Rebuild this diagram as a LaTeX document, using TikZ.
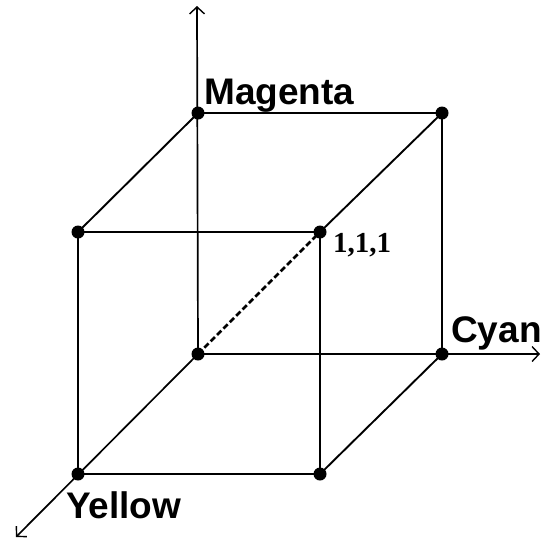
\documentclass[tikz,border=0pt]{standalone}
\usepackage{fontspec}
\setmainfont{Liberation Serif}
\newfontfamily\labfont{Liberation Sans}
\usetikzlibrary{arrows.meta}
\begin{document}
\begin{tikzpicture}[x=1pt,y=-1pt,
  dot/.style={circle,fill=black,inner sep=0pt,minimum size=13pt},
  edge/.style={line width=1.9pt},
  axis/.style={line width=1.7pt,-{Straight Barb[length=7pt,width=15pt,line width=1.4pt]}},
  lab/.style={font=\labfont\bfseries\fontsize{37}{42}\selectfont,inner sep=0pt,anchor=base west},
  num/.style={font=\fontsize{29}{32}\selectfont\bfseries,inner sep=0pt,anchor=base west}]
\useasboundingbox (0,0) rectangle (543,542);
\fill[white] (0,0) rectangle (543,542);
% vertices
\node[dot] (o) at (198,354) {};
\node[dot] (m) at (198,113) {};
\node[dot] (c) at (442,354) {};
\node[dot] (mc) at (442,113) {};
\node[dot] (ym) at (78,232) {};
\node[dot] (w) at (320,232) {};
\node[dot] (y) at (78,474) {};
\node[dot] (yc) at (320,474) {};
% axis ends
\coordinate (zt) at (197,6);
\coordinate (xt) at (540,354);
\coordinate (yt) at (16,537);
% axes
\draw[axis] (o.center) -- (zt);
\draw[axis] (o.center) -- (xt);
\draw[axis] (o.center) -- (yt);
% edges
\draw[edge] (m.center) -- (mc.center) -- (c.center);
\draw[edge] (m.center) -- (ym.center);
\draw[edge] (mc.center) -- (w.center);
\draw[edge] (c.center) -- (yc.center);
\draw[edge] (ym.center) -- (w.center);
\draw[edge,line width=2.6pt] (w.center) -- (yc.center);
\draw[edge] (yc.center) -- (y.center) -- (ym.center);
\draw[line width=2.8pt,dash pattern=on 6pt off 3pt] (o.center) -- (w.center);
% labels
\node[lab] (lm) at (204,104) {Magenta};
\node[lab] (lc) at (451,342) {Cyan};
\node[lab] (ly) at (66,518) {Yellow};
\node[num] (lw) at (333,252) {1,1,1};
\end{tikzpicture}
\end{document}
